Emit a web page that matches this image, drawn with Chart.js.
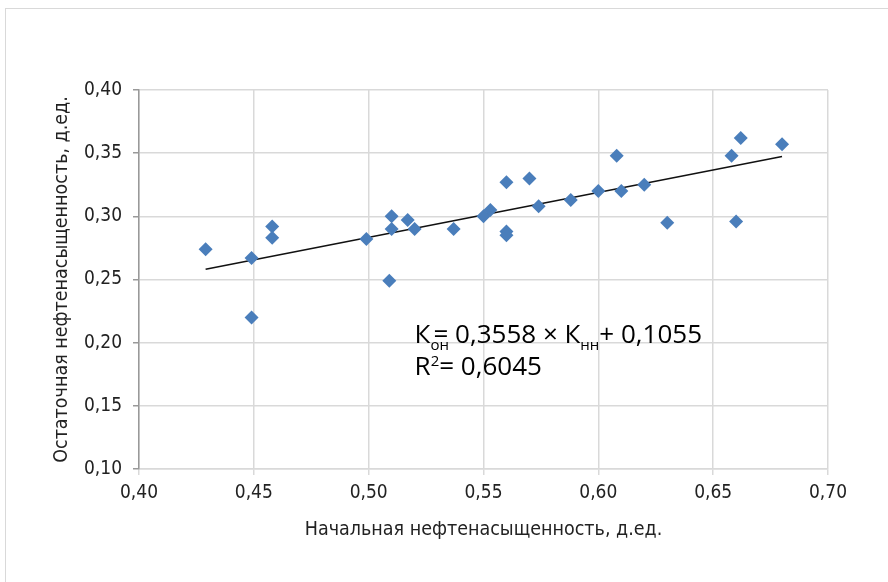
<!DOCTYPE html>
<html>
<head>
<meta charset="utf-8">
<script src="https://cdn.jsdelivr.net/npm/chart.js@4.4.1/dist/chart.umd.min.js"></script>
<style>
  html, body { margin: 0; padding: 0; background: #fff; }
  #wrap { position: relative; width: 888px; height: 582px; overflow: hidden; }
  #frame { position: absolute; left: 5px; top: 8px; width: 900px; height: 600px; border: 1.5px solid #d9d9d9; box-sizing: border-box; }
  canvas { position: absolute; left: 0; top: 0; }
</style>
</head>
<body>
<div id="wrap">
  <div id="frame"></div>
  <canvas id="chart" width="888" height="582"></canvas>
</div>
<script>
// initial oil saturation (x) and residual oil saturation (y), fractions
const initialSat = [0.429, 0.449, 0.449, 0.458, 0.458, 0.499, 0.510, 0.510, 0.509, 0.517,
                    0.520, 0.537, 0.550, 0.553, 0.560, 0.560, 0.560, 0.570, 0.574, 0.588,
                    0.600, 0.608, 0.610, 0.620, 0.630, 0.658, 0.662, 0.660, 0.680];
const residualSat = [0.274, 0.267, 0.220, 0.292, 0.283, 0.282, 0.300, 0.290, 0.249, 0.297,
                     0.290, 0.290, 0.300, 0.305, 0.327, 0.288, 0.285, 0.330, 0.308, 0.313,
                     0.320, 0.348, 0.320, 0.325, 0.295, 0.348, 0.362, 0.296, 0.357];

// linear trend from the chart: Kon = 0.3558 * Knn + 0.1055
const slope = 0.3558;
const intercept = 0.1055;

const xTicks = [0.40, 0.45, 0.50, 0.55, 0.60, 0.65, 0.70];
const yTicks = [0.10, 0.15, 0.20, 0.25, 0.30, 0.35, 0.40];

const xTitle = 'Начальная нефтенасыщенность, д.ед.';
const yTitle = 'Остаточная нефтенасыщенность, д.ед.';

const points = initialSat.map((x, i) => ({ x: x, y: residualSat[i] }));
const xMin = Math.min(...initialSat);
const xMax = Math.max(...initialSat);
const trend = [xMin, xMax].map(x => ({ x: x, y: slope * x + intercept }));

const fmt = v => v.toFixed(2).replace('.', ',');
const family = "'Liberation Sans Narrow', 'DejaVu Sans Condensed', sans-serif";
const tickFont = { family: family, size: 19 };
const titleFont = { family: family, size: 19.5 };

// equation label inside the plot
const eqPlugin = {
  id: 'eq',
  afterDatasetsDraw(chart) {
    const ctx = chart.ctx;
    const x0 = chart.scales.x.getPixelForValue(0.520);
    const y1 = chart.scales.y.getPixelForValue(0.2);
    ctx.save();
    ctx.fillStyle = '#000';
    ctx.textBaseline = 'alphabetic';
    const big = "26px 'Open Sans', sans-serif";
    const small = "15px 'Open Sans', sans-serif";
    let x = x0;
    const part = (txt, font, dy, advance) => {
      ctx.font = font;
      ctx.fillText(txt, x, y1 + dy);
      if (advance !== false) x += ctx.measureText(txt).width;
    };
    part('К', big, 0);
    part('он', small, 7, false);
    x += 3;
    part('= 0,3558 × К', big, 0);
    part('нн', small, 7);
    part('+ 0,1055', big, 0);
    x = x0;
    part('R', big, 32);
    part('2', small, 23);
    part('= 0,6045', big, 32);
    ctx.restore();
  }
};

new Chart(document.getElementById('chart'), {
  type: 'scatter',
  data: {
    datasets: [
      {
        label: 'data',
        data: points,
        pointStyle: 'rectRot',
        pointRadius: 7,
        pointBackgroundColor: '#4a7ebb',
        pointBorderColor: '#4a7ebb',
        pointBorderWidth: 0
      },
      {
        type: 'line',
        label: 'trend',
        data: trend,
        borderColor: '#111',
        borderWidth: 1.5,
        pointRadius: 0,
        fill: false
      }
    ]
  },
  options: {
    responsive: false,
    animation: false,
    layout: { padding: { left: 50, top: 90, right: 60, bottom: 36 } },
    plugins: { legend: { display: false }, tooltip: { enabled: false } },
    scales: {
      x: {
        type: 'linear',
        min: 0.40, max: 0.70,
        afterBuildTicks: s => { s.ticks = xTicks.map(v => ({ value: v })); },
        afterFit: s => { s.height = 77; },
        grid: { color: '#d9d9d9', lineWidth: 1.5, tickLength: 6 },
        border: { color: '#d9d9d9', width: 1.5 },
        ticks: { color: '#222', font: tickFont, padding: 7, maxRotation: 0, callback: fmt },
        title: { display: true, text: xTitle, color: '#222', font: titleFont, padding: { top: 12 } }
      },
      y: {
        type: 'linear',
        min: 0.10, max: 0.40,
        afterBuildTicks: s => { s.ticks = yTicks.map(v => ({ value: v })); },
        afterFit: s => { s.width = 89; },
        grid: { color: '#d9d9d9', lineWidth: 1.5, tickLength: 6, tickColor: '#999' },
        border: { color: '#999', width: 1.5 },
        ticks: { color: '#222', font: tickFont, padding: 11, callback: fmt },
        title: { display: true, text: yTitle, color: '#222', font: titleFont, padding: 0 }
      }
    }
  },
  plugins: [eqPlugin]
});
</script>
</body>
</html>
